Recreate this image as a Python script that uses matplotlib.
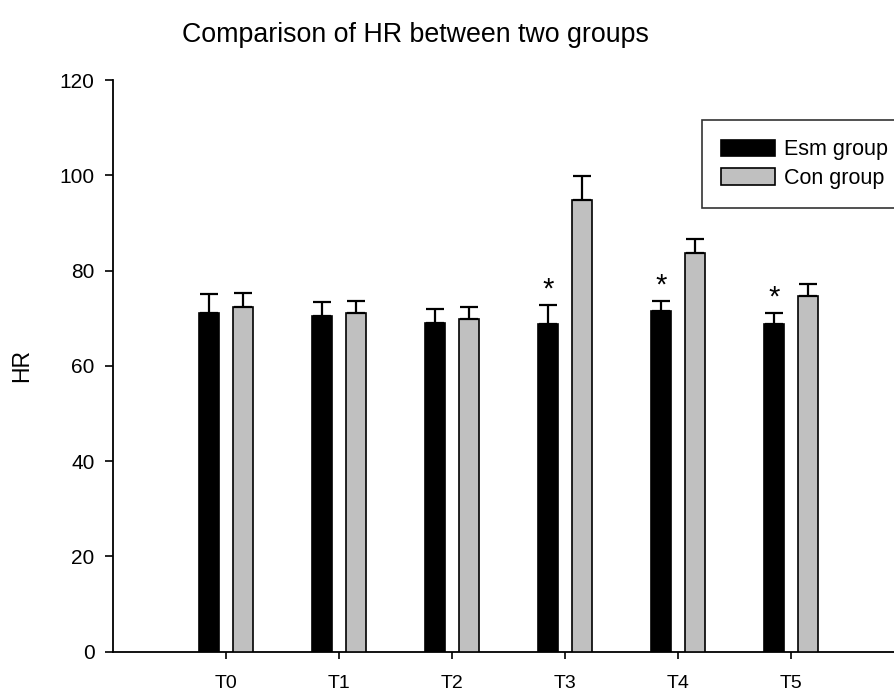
import numpy as np
import matplotlib.pyplot as plt

plt.rcParams['font.family'] = ['Liberation Sans', 'DejaVu Sans']

times = ['T0', 'T1', 'T2', 'T3', 'T4', 'T5']
esm_mean = [71.1, 70.5, 69.0, 68.8, 71.5, 68.8]
esm_sd = [4.0, 2.9, 3.0, 4.0, 2.1, 2.3]
con_mean = [72.4, 71.1, 69.9, 94.8, 83.7, 74.7]
con_sd = [2.9, 2.5, 2.5, 5.1, 2.9, 2.5]
star_idx = [3, 4, 5]

x = np.arange(len(times))
w = 0.18
off = 0.15

fig = plt.figure(figsize=(8.95, 6.97), dpi=100)
ax = fig.add_axes([0.126, 0.065, 0.874, 0.82])

err_kw = dict(ecolor='black', elinewidth=1.6, capsize=6.5, capthick=1.6)
ax.bar(x - off, esm_mean, w, color='black', edgecolor='black', linewidth=1.2,
       yerr=[np.zeros(len(x)), esm_sd], error_kw=err_kw, label='Esm group', zorder=3)
ax.bar(x + off, con_mean, w, color='#c0c0c0', edgecolor='black', linewidth=1.2,
       yerr=[np.zeros(len(x)), con_sd], error_kw=err_kw, label='Con group', zorder=3)

# significance marks
for i in star_idx:
    ax.text(x[i] - off, esm_mean[i] + esm_sd[i] + 0.3, '*', ha='center', va='bottom',
            fontsize=21)

ax.set_xlim(-1.0, 5.92)
ax.set_ylim(0, 120)
ax.set_xticks(x)
ax.set_xticklabels(times, fontsize=14)
ax.set_yticks(range(0, 121, 20))
ax.tick_params(axis='y', labelsize=15, length=6, width=1.2, direction='out', pad=7)
ax.tick_params(axis='x', length=5, width=1.2, direction='out', pad=12)
ax.spines['top'].set_visible(False)
ax.spines['right'].set_visible(False)
ax.spines['left'].set_linewidth(1.3)
ax.spines['bottom'].set_linewidth(1.3)
ax.set_ylabel('HR', fontsize=16.5, labelpad=19)
fig.text(415 / 895, 1 - 35 / 697, 'Comparison of HR between two groups',
         fontsize=19.3, ha='center', va='center')

leg = ax.legend(loc='upper left', bbox_to_anchor=(702 / 895, 1 - 120 / 697),
                bbox_transform=fig.transFigure, fontsize=15.5,
                frameon=True, fancybox=False, edgecolor='black', handlelength=2.5,
                handleheight=0.8, borderpad=0.9, labelspacing=0.35, handletextpad=0.4,
                borderaxespad=0)
leg.get_frame().set_linewidth(1.2)

fig.savefig('out.png', dpi=100)
